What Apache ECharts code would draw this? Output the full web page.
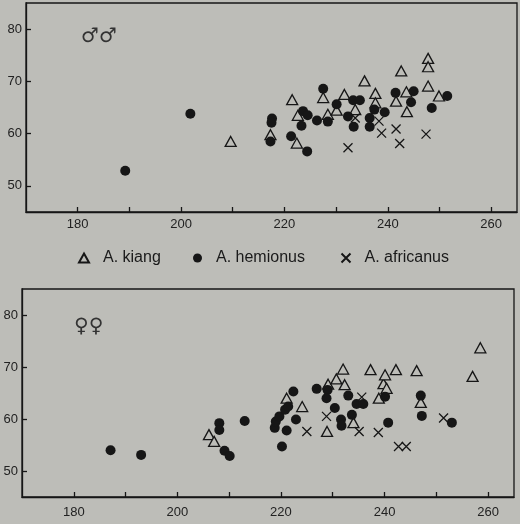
<!DOCTYPE html>
<html><head><meta charset="utf-8">
<script src="https://cdn.jsdelivr.net/npm/echarts@6/dist/echarts.min.js"></script>
<style>html,body{margin:0;padding:0;background:#bdbdb8}#c{width:520px;height:524px}</style>
</head><body><div id="c"></div>
<script>
// ---- data ----
const xTicks = [180, 190, 200, 210, 220, 230, 240, 250, 260];
const xLabels = [180, 200, 220, 240, 260];
const yTicks = [50, 60, 70, 80];
const seriesNames = ['A. kiang', 'A. hemionus', 'A. africanus'];
const panelLabels = ['\u2642\u2642', '\u2640\u2640'];

// males (top)
const maleKiang = [[209.6,58.5],[217.3,59.8],[221.5,66.5],[222.6,63.5],[222.4,58.2],[227.5,66.9],[228.4,63.7],[230.1,64.5],[231.6,67.5],[233.7,64.6],[235.5,70.1],[237.6,67.7],[237.6,65.9],[241.6,66.2],[242.6,72.0],[243.6,68.0],[243.7,64.2],[247.8,74.4],[247.8,72.8],[247.8,69.1],[249.9,67.2]];
const maleHemionus = [[189.2,52.9],[201.8,63.8],[217.6,62.9],[217.5,62.1],[217.3,58.5],[221.3,59.5],[223.6,64.3],[224.5,63.5],[223.3,61.5],[224.4,56.6],[226.3,62.5],[227.5,68.6],[228.4,62.3],[230.1,65.6],[232.3,63.3],[233.3,66.4],[234.6,66.4],[233.4,61.3],[236.5,63.0],[236.5,61.3],[237.4,64.6],[239.4,64.1],[241.5,67.8],[244.5,66.0],[245.0,68.1],[248.5,64.9],[251.5,67.2]];
const maleAfricanus = [[232.3,57.3],[233.7,63.0],[238.3,62.4],[238.8,60.1],[241.6,60.9],[242.3,58.1],[247.4,59.9]];

// females (bottom)
const femaleKiang = [[206.1,57.0],[207.1,55.7],[221.1,64.0],[224.1,62.4],[228.9,57.6],[229.1,66.7],[230.7,67.7],[232.0,69.6],[232.3,66.6],[234.0,59.3],[237.3,69.5],[238.9,64.0],[239.8,66.8],[240.4,65.9],[240.1,68.5],[242.2,69.5],[246.2,69.3],[247.0,63.2],[257.0,68.2],[258.5,73.7]];
const femaleHemionus = [[187.1,54.0],[193.0,53.1],[208.1,59.2],[208.1,57.9],[209.1,53.9],[210.1,52.9],[213.0,59.6],[218.8,58.3],[219.0,59.5],[219.7,60.5],[220.8,61.8],[221.4,62.4],[222.4,65.3],[221.1,57.8],[222.9,59.9],[220.2,54.7],[226.9,65.8],[229.0,65.6],[228.8,64.0],[230.4,62.1],[231.6,59.9],[231.7,58.7],[233.0,64.5],[233.7,60.8],[234.6,62.9],[235.9,62.9],[240.1,64.3],[240.7,59.3],[247.0,64.5],[247.2,60.6],[253.0,59.3]];
const femaleAfricanus = [[225.0,57.6],[228.8,60.5],[235.1,57.6],[235.6,64.2],[238.8,57.4],[242.7,54.7],[244.2,54.7],[251.4,60.2]];

// ---- styles ----
const BG = '#bdbdb8';
const INK = '#161616';
const FONT = '"Liberation Sans", Arial, sans-serif';
const crossPath = 'path://M0,0L10,10M10,0L0,10';

function xAxis(gridIndex, margin) {
  return {
    type: 'value', gridIndex, min: 170, max: 265,
    splitLine: { show: false },
    axisLine: { show: true, lineStyle: { color: INK, width: 1.3 } },
    axisTick: { show: true, inside: true, length: 5, customValues: xTicks, lineStyle: { color: INK, width: 1.3 } },
    axisLabel: { customValues: xLabels, margin, color: '#222', fontSize: 13, fontFamily: FONT }
  };
}
function yAxis(gridIndex) {
  return {
    type: 'value', gridIndex, min: 45, max: 85,
    splitLine: { show: false },
    axisLine: { show: true, lineStyle: { color: INK, width: 1.3 } },
    axisTick: { show: true, inside: true, length: 5, customValues: yTicks, lineStyle: { color: INK, width: 1.3 } },
    axisLabel: { customValues: yTicks, margin: 4, color: '#222', fontSize: 13, fontFamily: FONT }
  };
}
function kiang(data, i) {
  return { name: seriesNames[0], type: 'scatter', xAxisIndex: i, yAxisIndex: i, data, symbol: 'triangle', symbolSize: [11, 10], z: 2,
    itemStyle: { color: BG, borderColor: INK, borderWidth: 1.3, opacity: 1 } };
}
function hemionus(data, i) {
  return { name: seriesNames[1], type: 'scatter', xAxisIndex: i, yAxisIndex: i, data, symbol: 'circle', symbolSize: 10, z: 3,
    itemStyle: { color: INK, opacity: 1 } };
}
function africanus(data, i) {
  return { name: seriesNames[2], type: 'scatter', xAxisIndex: i, yAxisIndex: i, data, symbol: crossPath, symbolSize: 9, z: 4,
    itemStyle: { color: 'none', borderColor: INK, borderWidth: 1.3, opacity: 1 } };
}
function legend(name, left, iconW, iconH) {
  return { data: [{ name }], left, top: 245, itemWidth: iconW, itemHeight: iconH, selectedMode: false,
    textStyle: { fontSize: 16, color: '#1a1a1a', fontFamily: FONT, padding: [0, 0, 0, 9] } };
}

const chart = echarts.init(document.getElementById('c'), null, { renderer: 'canvas' });
chart.setOption({
  backgroundColor: BG,
  animation: false,
  grid: [
    { left: 26, right: 3, top: 3, height: 209, show: true, borderColor: INK, borderWidth: 1.3, backgroundColor: 'transparent' },
    { left: 22, right: 6, top: 289, height: 208, show: true, borderColor: INK, borderWidth: 1.3, backgroundColor: 'transparent' }
  ],
  xAxis: [xAxis(0, 6), xAxis(1, 9)],
  yAxis: [yAxis(0), yAxis(1)],
  legend: [legend(seriesNames[0], 73, 10, 9), legend(seriesNames[1], 188, 9, 9), legend(seriesNames[2], 334, 9, 9)],
  graphic: [
    { type: 'text', left: 81, top: 27, style: { text: panelLabels[0], fontSize: 20, fill: '#333', fontFamily: '"DejaVu Sans", sans-serif' } },
    { type: 'text', left: 74, top: 317, style: { text: panelLabels[1], fontSize: 20, fill: '#333', fontFamily: '"DejaVu Sans", sans-serif' } }
  ],
  series: [
    kiang(maleKiang, 0), hemionus(maleHemionus, 0), africanus(maleAfricanus, 0),
    kiang(femaleKiang, 1), hemionus(femaleHemionus, 1), africanus(femaleAfricanus, 1)
  ]
});
</script></body></html>
